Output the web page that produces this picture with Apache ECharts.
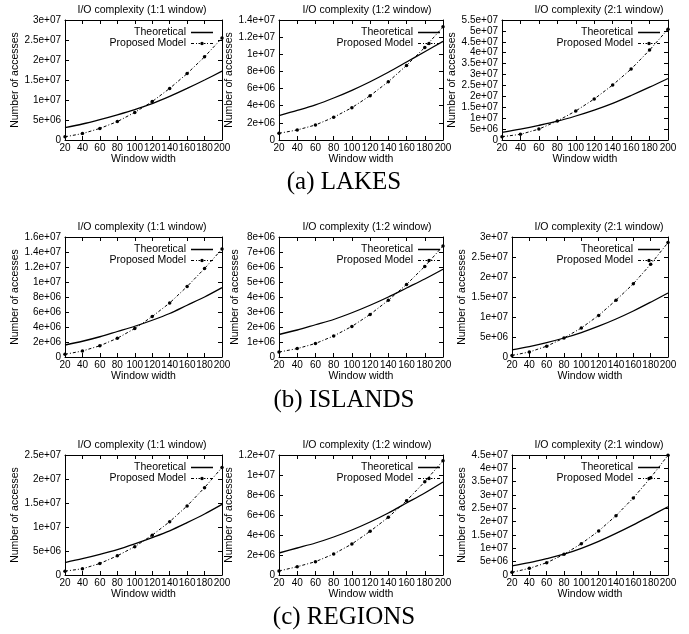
<!DOCTYPE html>
<html>
<head>
<meta charset="utf-8">
<script src="https://cdn.jsdelivr.net/npm/echarts@6/dist/echarts.min.js"></script>
<style>
  html, body { margin: 0; padding: 0; background: #fff; }
  #MyChart { width: 689px; height: 634px; }
</style>
</head>
<body>
<div id="MyChart"></div>
<script>
// x values (window width)
const windowWidths = [20, 40, 60, 80, 100, 120, 140, 160, 180, 200];

// panel titles / captions
const panelTitles = ['I/O complexity (1:1 window)', 'I/O complexity (1:2 window)', 'I/O complexity (2:1 window)'];
const captions = ['(a) LAKES', '(b) ISLANDS', '(c) REGIONS'];
const seriesNames = ['Theoretical', 'Proposed Model'];

// LAKES
const lakes11Theo = [3.1e6, 4.0e6, 5.1e6, 6.3e6, 7.6e6, 9.1e6, 10.9e6, 12.9e6, 15.0e6, 17.2e6];
const lakes11Prop = [0.8e6, 1.6e6, 2.9e6, 4.6e6, 6.9e6, 9.6e6, 12.9e6, 16.6e6, 20.8e6, 25.5e6];
const lakes12Theo = [2.85e6, 3.45e6, 4.1e6, 4.9e6, 5.8e6, 6.8e6, 7.9e6, 9.1e6, 10.3e6, 11.5e6];
const lakes12Prop = [0.78e6, 1.17e6, 1.75e6, 2.65e6, 3.77e6, 5.17e6, 6.8e6, 8.7e6, 10.8e6, 13.2e6];
const lakes21Theo = [3.5e6, 5.0e6, 6.7e6, 8.6e6, 11.0e6, 13.7e6, 16.8e6, 20.4e6, 24.2e6, 28.2e6];
const lakes21Prop = [1.5e6, 2.6e6, 5.0e6, 8.7e6, 13.3e6, 18.8e6, 25.2e6, 32.5e6, 41.2e6, 50.8e6];

// ISLANDS
const islands11Theo = [1.6e6, 2.1e6, 2.7e6, 3.4e6, 4.1e6, 4.9e6, 5.8e6, 6.9e6, 8.0e6, 9.25e6];
const islands11Prop = [0.36e6, 0.8e6, 1.5e6, 2.5e6, 3.8e6, 5.4e6, 7.2e6, 9.4e6, 11.8e6, 14.4e6];
const islands12Theo = [1.5e6, 1.8e6, 2.15e6, 2.5e6, 2.95e6, 3.45e6, 4.0e6, 4.6e6, 5.2e6, 5.85e6];
const islands12Prop = [0.33e6, 0.56e6, 0.9e6, 1.4e6, 2.04e6, 2.84e6, 3.78e6, 4.84e6, 6.04e6, 7.4e6];
const islands21Theo = [1.8e6, 2.6e6, 3.6e6, 4.75e6, 6.1e6, 7.7e6, 9.5e6, 11.5e6, 13.7e6, 16.0e6];
const islands21Prop = [0.4e6, 1.25e6, 2.7e6, 4.75e6, 7.25e6, 10.4e6, 14.2e6, 18.3e6, 23.2e6, 28.6e6];

// REGIONS
const regions11Theo = [2.6e6, 3.4e6, 4.3e6, 5.3e6, 6.5e6, 7.8e6, 9.2e6, 10.9e6, 12.7e6, 14.7e6];
const regions11Prop = [0.8e6, 1.3e6, 2.4e6, 4.0e6, 5.9e6, 8.3e6, 11.1e6, 14.4e6, 18.2e6, 22.4e6];
const regions12Theo = [2.2e6, 2.7e6, 3.2e6, 3.8e6, 4.5e6, 5.3e6, 6.2e6, 7.2e6, 8.2e6, 9.3e6];
const regions12Prop = [0.4e6, 0.83e6, 1.33e6, 2.1e6, 3.1e6, 4.37e6, 5.77e6, 7.43e6, 9.33e6, 11.43e6];
const regions21Theo = [3.4e6, 4.6e6, 6.1e6, 7.8e6, 10.0e6, 12.6e6, 15.6e6, 18.8e6, 22.2e6, 25.6e6];
const regions21Prop = [1.0e6, 2.5e6, 4.6e6, 7.75e6, 11.75e6, 16.5e6, 22.25e6, 28.9e6, 36.5e6, 44.9e6];

// y axis ranges, one per panel (row by row)
const yMax = [3e7, 1.4e7, 5.5e7, 1.6e7, 8e6, 3e7, 2.5e7, 1.2e7, 4.5e7];
const yStep = [5e6, 2e6, 5e6, 2e6, 1e6, 5e6, 5e6, 2e6, 5e6];

const panels = [
  [lakes11Theo, lakes11Prop], [lakes12Theo, lakes12Prop], [lakes21Theo, lakes21Prop],
  [islands11Theo, islands11Prop], [islands12Theo, islands12Prop], [islands21Theo, islands21Prop],
  [regions11Theo, regions11Prop], [regions12Theo, regions12Prop], [regions21Theo, regions21Prop]
];

// layout (px)
const rowTop = [20, 237, 455];
const plotH = 120;
const plotLeft = [65, 279, 502, 65, 279, 512, 65, 279, 512];
const colRight = [222, 443, 668];
const yNameX = [15, 235, 462];
const titleX = [142, 367, 599];
const legendRight = [213, 440, 660];
const captionY = [182, 400, 617];

const font = "'Liberation Sans', Arial, sans-serif";
const fs = 10.5;

// legend icons (gnuplot style key samples), box 22 x 5
const solidIcon = 'path://M0 0Z M22 5Z M0 1.85h22v1.3h-22z';
const dashDotIcon = 'path://M0 0Z M22 5Z M0 2h3v1h-3z M5 2h1v1h-1z M7.5 2h1.5v1h-1.5z' +
  'M9.25 2.5a1.75 1.75 0 1 0 3.5 0a1.75 1.75 0 1 0 -3.5 0z M13 2h1.5v1h-1.5z M16 2h1v1h-1z M19 2h3v1h-3z';

function sci (v) {
  if (v === 0) return '0';
  const e = Math.floor(Math.log10(v) + 1e-9);
  const m = +(v / Math.pow(10, e)).toFixed(2);
  return m + 'e+' + (e < 10 ? '0' : '') + e;
}

function pairs (ys) {
  return windowWidths.map((x, i) => [x, ys[i]]);
}

let myChart = echarts.init(document.getElementById('MyChart'), null, { renderer: 'canvas' });

const grid = [], xAxis = [], yAxis = [], series = [], legend = [], title = [];
const lineAxis = { show: true, onZero: false, lineStyle: { color: '#000', width: 1 } };
const tick = { show: true, inside: true, length: 4, lineStyle: { color: '#000' } };

for (let i = 0; i < 9; i++) {
  const row = Math.floor(i / 3), col = i % 3;
  const left = plotLeft[i];
  const top = rowTop[row];
  grid.push({ left: left, top: top, width: colRight[col] - left, height: plotH, outerBoundsMode: 'none', containLabel: false });

  xAxis.push({
    gridIndex: i, type: 'value', position: 'bottom', min: 20, max: 200, interval: 20,
    axisLine: lineAxis, axisTick: tick, splitLine: { show: false },
    axisLabel: { color: '#000', fontSize: 10, fontFamily: font, margin: 3 },
    name: 'Window width', nameLocation: 'middle', nameGap: 14,
    nameTextStyle: { color: '#000', fontSize: fs, fontFamily: font }
  });
  xAxis.push({
    gridIndex: i, type: 'value', position: 'top', min: 20, max: 200, interval: 20,
    axisLine: lineAxis, axisTick: tick, splitLine: { show: false }, axisLabel: { show: false }
  });
  yAxis.push({
    gridIndex: i, type: 'value', position: 'left', min: 0, max: yMax[i], interval: yStep[i],
    axisLine: lineAxis, axisTick: tick, splitLine: { show: false },
    axisLabel: { color: '#000', fontSize: 10, fontFamily: font, margin: 4, formatter: sci },
    name: 'Number of accesses', nameLocation: 'middle', nameGap: left - yNameX[col] - 6,
    nameTextStyle: { color: '#000', fontSize: fs, fontFamily: font }
  });
  yAxis.push({
    gridIndex: i, type: 'value', position: 'right', min: 0, max: yMax[i], interval: yStep[i],
    axisLine: lineAxis, axisTick: tick, splitLine: { show: false }, axisLabel: { show: false }
  });

  series.push({
    name: seriesNames[0], type: 'line', xAxisIndex: 2 * i, yAxisIndex: 2 * i,
    data: pairs(panels[i][0]), symbol: 'none', smooth: 0.3,
    lineStyle: { color: '#000', width: 1.3 }, itemStyle: { color: '#000' }
  });
  series.push({
    name: seriesNames[1], type: 'line', xAxisIndex: 2 * i, yAxisIndex: 2 * i,
    data: pairs(panels[i][1]), symbol: 'circle', symbolSize: 3.5,
    lineStyle: { color: '#000', width: 1, type: [3, 2, 1, 2] }, itemStyle: { color: '#000' }
  });

  legend.push({
    data: [
      { name: seriesNames[0], icon: solidIcon },
      { name: seriesNames[1], icon: dashDotIcon }
    ],
    orient: 'vertical', align: 'right',
    right: 689 - legendRight[col], top: top + 7, padding: 0, itemGap: 0,
    itemWidth: 22, itemHeight: 5,
    itemStyle: { color: '#000', borderWidth: 0 },
    textStyle: { color: '#000', fontSize: fs, fontFamily: font, lineHeight: 10 }
  });

  title.push({
    text: panelTitles[col], left: titleX[col], top: top - 10, padding: 0,
    textAlign: 'center', textVerticalAlign: 'middle',
    textStyle: { color: '#000', fontSize: fs, fontWeight: 'normal', fontFamily: font }
  });
}

captions.forEach((c, r) => {
  title.push({
    text: c, left: 344, top: captionY[r], padding: 0,
    textAlign: 'center', textVerticalAlign: 'middle',
    textStyle: { color: '#000', fontSize: 25, fontWeight: 'normal', fontFamily: "'Liberation Serif', 'Times New Roman', serif" }
  });
});

let option = {
  animation: false,
  backgroundColor: '#fff',
  title: title,
  legend: legend,
  grid: grid,
  xAxis: xAxis,
  yAxis: yAxis,
  series: series
};
myChart.setOption(option);
</script>
</body>
</html>
